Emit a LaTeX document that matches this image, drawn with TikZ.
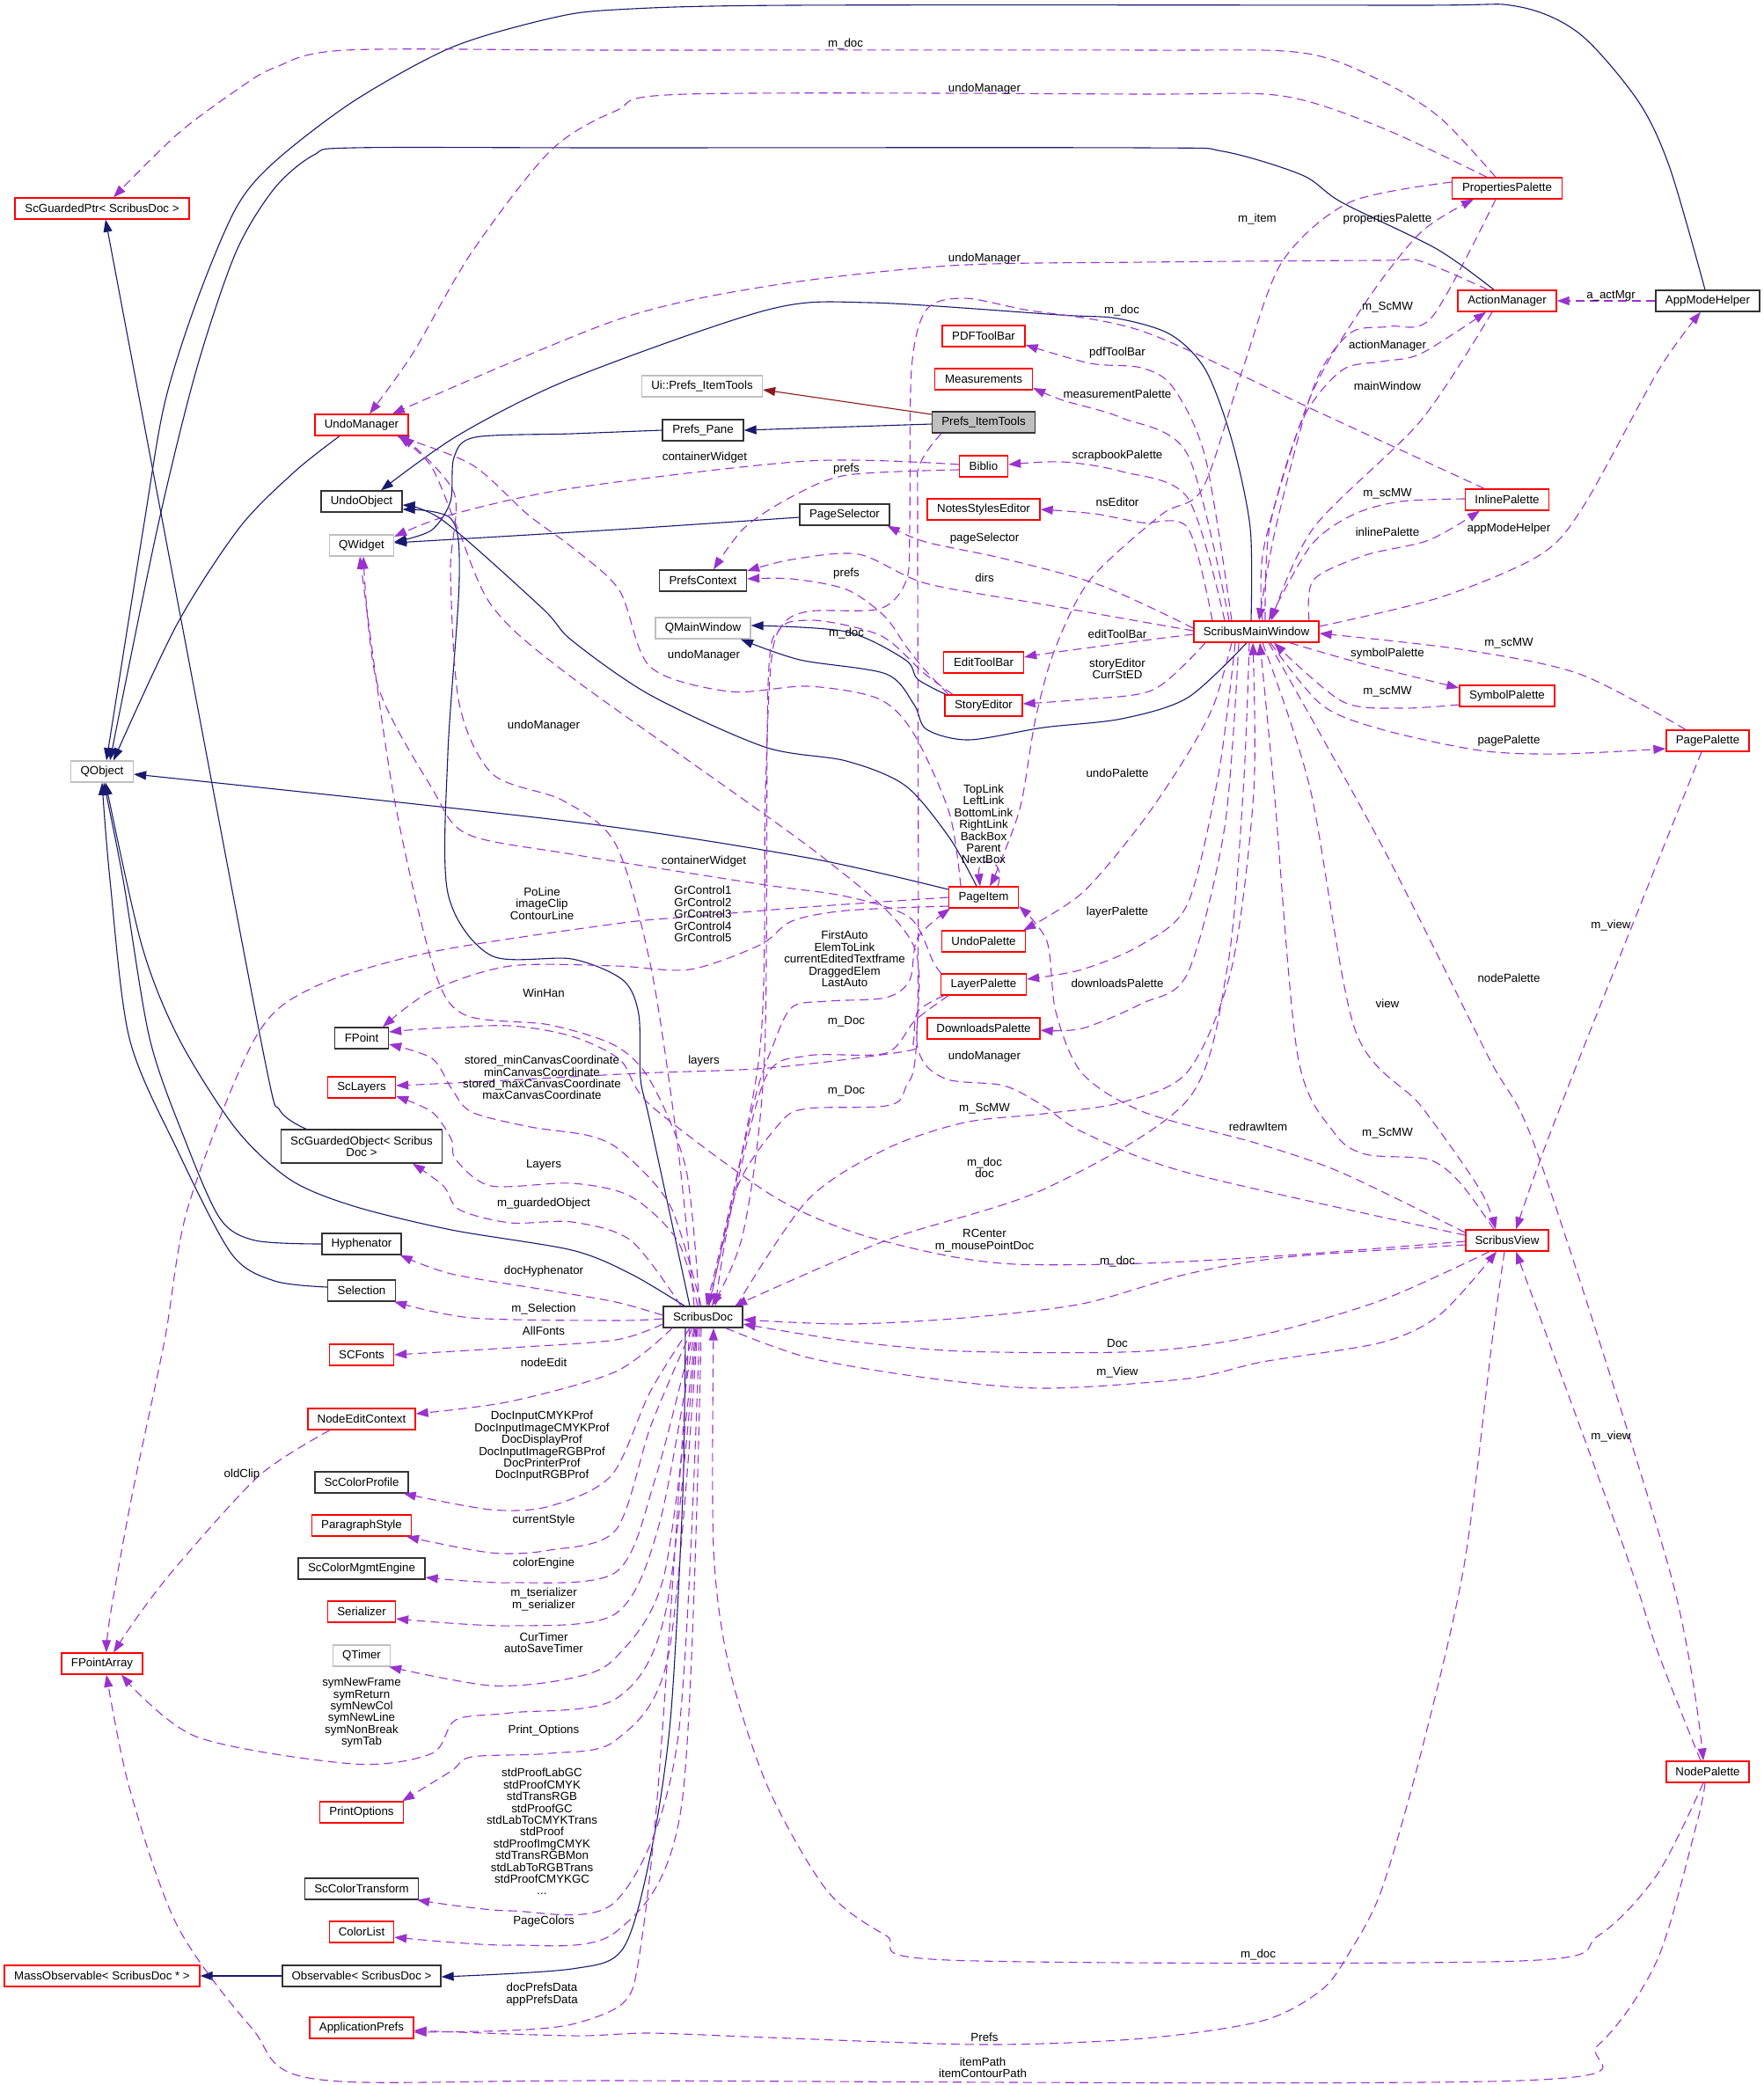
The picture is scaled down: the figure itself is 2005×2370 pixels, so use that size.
\documentclass[tikz,border=0pt]{standalone}
\usepackage{fontspec}
\setmainfont{Liberation Sans}
\usetikzlibrary{arrows.meta}
\definecolor{inhc}{HTML}{191970}
\definecolor{depc}{HTML}{9A32CD}
\definecolor{prvc}{HTML}{8B1A1A}
\definecolor{grb}{HTML}{BFBFBF}
\newcommand\fsz{\fontsize{13.3}{13.4}\selectfont}
\begin{document}
\begin{tikzpicture}[x=1pt,y=-1pt,
  nb/.style={draw, line width=1.3pt, minimum height=24pt, inner xsep=3pt, inner ysep=2pt, fill=white, font=\fsz},
  rb/.style={nb, draw=red},
  kb/.style={nb, draw=black!80},
  gb/.style={nb, draw=grb},
  inh/.style={draw=inhc, line width=1.1pt, -{Triangle[length=14pt,width=10pt]}},
  prv/.style={draw=prvc, line width=1.1pt, -{Triangle[length=14pt,width=10pt]}},
  dep/.style={draw=depc, line width=1.1pt, dash pattern=on 10pt off 6pt, -{Triangle[length=14pt,width=10pt]}},
  lb/.style={align=center, inner sep=0pt, font=\fsz}]
\fill[white] (0,0) rectangle (2005,2370);
\path[use as bounding box] (0,0) rectangle (2005,2370);
% ---------- nodes
\node[rb, minimum width=198pt] (gptr) at (116,237) {ScGuardedPtr< ScribusDoc >};
\node[rb, minimum width=106pt] (undomgr) at (411,483) {UndoManager};
\node[kb, minimum width=92pt] (undoobj) at (411,570) {UndoObject};
\node[gb, minimum width=73pt] (qwidget) at (411,620) {QWidget};
\node[gb, minimum width=71pt] (qobject) at (116,877) {QObject};
\node[kb, minimum width=61pt] (fpoint) at (411,1180) {FPoint};
\node[rb, minimum width=77pt] (sclayers) at (411,1236) {ScLayers};
\node[kb, minimum width=183pt, minimum height=38pt, align=center] (gobj) at (411,1303) {ScGuardedObject< Scribus\\Doc >};
\node[kb, minimum width=90pt] (hyph) at (411,1414) {Hyphenator};
\node[kb, minimum width=77pt] (sel) at (411,1467) {Selection};
\node[rb, minimum width=73pt] (scfonts) at (411,1540) {SCFonts};
\node[rb, minimum width=122pt] (nodeedit) at (411,1613) {NodeEditContext};
\node[kb, minimum width=106pt] (colprof) at (411,1685) {ScColorProfile};
\node[rb, minimum width=113pt] (parstyle) at (411,1734) {ParagraphStyle};
\node[kb, minimum width=144pt] (cme) at (411,1783) {ScColorMgmtEngine};
\node[rb, minimum width=77pt] (serial) at (411,1832) {Serializer};
\node[gb, minimum width=65pt] (qtimer) at (411,1882) {QTimer};
\node[rb, minimum width=92pt] (fpa) at (116,1891) {FPointArray};
\node[rb, minimum width=95pt] (printopt) at (411,2060) {PrintOptions};
\node[kb, minimum width=129pt] (coltrans) at (411,2147) {ScColorTransform};
\node[rb, minimum width=73pt] (collist) at (411,2196) {ColorList};
\node[rb, minimum width=222pt] (massobs) at (116,2246) {MassObservable< ScribusDoc * >};
\node[kb, minimum width=180pt] (obs) at (411,2246) {Observable< ScribusDoc >};
\node[rb, minimum width=118pt] (appprefs) at (411,2305) {ApplicationPrefs};
\node[gb, minimum width=137pt] (uipit) at (798,439) {Ui::Prefs\_ItemTools};
\node[kb, minimum width=92pt] (prefspane) at (799,489) {Prefs\_Pane};
\node[kb, minimum width=99pt] (prefsctx) at (799,660) {PrefsContext};
\node[gb, minimum width=108pt] (qmainwin) at (799,714) {QMainWindow};
\node[kb, minimum width=90pt] (doc) at (799,1497) {ScribusDoc};
\node[rb, minimum width=94pt] (pdftb) at (1118,382) {PDFToolBar};
\node[rb, minimum width=111pt] (meas) at (1118,431) {Measurements};
\node[kb, fill=grb, minimum width=117pt] (pit) at (1118,480) {Prefs\_ItemTools};
\node[rb, minimum width=55pt] (biblio) at (1118,530) {Biblio};
\node[rb, minimum width=128pt] (nse) at (1118,579) {NotesStylesEditor};
\node[kb, minimum width=102pt] (pagesel) at (960,585) {PageSelector};
\node[rb, minimum width=91pt] (edittb) at (1118,753) {EditToolBar};
\node[rb, minimum width=88pt] (story) at (1118,802) {StoryEditor};
\node[rb, minimum width=79pt] (pageitem) at (1118,1020) {PageItem};
\node[rb, minimum width=95pt] (undopal) at (1118,1070) {UndoPalette};
\node[rb, minimum width=97pt] (layerpal) at (1118,1119) {LayerPalette};
\node[rb, minimum width=128pt] (dlpal) at (1118,1169) {DownloadsPalette};
\node[rb, minimum width=142pt] (smw) at (1428,718) {ScribusMainWindow};
\node[rb, minimum width=125pt] (proppal) at (1713,214) {PropertiesPalette};
\node[rb, minimum width=112pt] (actmgr) at (1713,342) {ActionManager};
\node[rb, minimum width=95pt] (inlinepal) at (1713,568) {InlinePalette};
\node[rb, minimum width=108pt] (sympal) at (1713,791) {SymbolPalette};
\node[rb, minimum width=94pt] (view) at (1713,1410) {ScribusView};
\node[kb, minimum width=118pt] (appmode) at (1941,342) {AppModeHelper};
\node[rb, minimum width=94pt] (pagepal) at (1941,842) {PagePalette};
\node[rb, minimum width=94pt] (nodepal) at (1941,2014) {NodePalette};
% ---------- inheritance
\draw[inh] plot[smooth] coordinates {([xshift=-63pt]gobj.north) (318,1262) (300,1200) (205,700) ([xshift=4pt]gptr.south)};
\draw[inh] plot[smooth] coordinates {([xshift=-25pt]undomgr.south) (335,536) (272,600) (201,710) ([xshift=13pt]qobject.north)};
\draw[inh] plot[smooth] coordinates {([xshift=-3pt]appmode.north) (1898,191) (1862,115) (1795,38) (1723,7) (1600,6) (900,6) (700,11) (625,21) (513,54) (402,115) (312,184) (268,237) (223,344) (187,459) (163,600) ([xshift=5pt]qobject.north)};
\draw[inh] plot[smooth] coordinates {([xshift=-15pt]actmgr.north) (1633,283) (1525,230) (1480,199) (1390,172) (1300,168) (700,168) (402,168) (357,176) (312,214) (268,287) (223,421) (179,600) ([xshift=9pt]qobject.north)};
\draw[inh] plot[smooth] coordinates {(hyph.west) (290,1410) (250,1385) (210,1295) (170,1180) (140,1000) ([xshift=2pt]qobject.south)};
\draw[inh] plot[smooth] coordinates {([yshift=4pt]sel.west) (312,1456) (263,1425) (201,1306) (147,1180) (125,1000) (qobject.south)};
\draw[inh] plot[smooth] coordinates {([xshift=-21pt]doc.north) (717,1448) (650,1421) (513,1398) (402,1371) (330,1341) (268,1283) (203,1180) (161,1074) ([xshift=4pt]qobject.south)};
\draw[inh] plot[smooth] coordinates {([yshift=9pt]pageitem.west) (918,975) (650,934) ([yshift=-3pt]qobject.east)};
\draw[inh] plot[smooth] coordinates {(prefspane.west) (650,493) (540,497) (516,520) (512,570) (490,603) ([yshift=4pt]qwidget.east)};
\draw[inh] plot[smooth] coordinates {([yshift=-3pt]pagesel.west) (700,602) ([yshift=3pt]qwidget.east)};
\draw[inh] plot[smooth] coordinates {([xshift=-6pt]smw.north) (1421,600) (1400,500) (1370,420) (1330,380) (1270,362) (1205,358) (989,344) (873,352) (650,430) (522,494) ([xshift=22pt]undoobj.north)};
\draw[inh] plot[smooth] coordinates {([xshift=-8pt]pageitem.north) (1079,952) (1029,893) (962,865) (869,849) (739,790) (650,728) (616,691) (504,592) ([yshift=-4pt]undoobj.east)};
\draw[inh] plot[smooth] coordinates {([xshift=-15pt]doc.north) (739,1276) (728,1226) (726,1153) (708,1114) (650,1090) (558,1086) (509,1015) (509,857) (522,659) (513,590) ([yshift=-9pt]undoobj.east)};
\draw[inh] plot[smooth] coordinates {([xshift=-11pt]smw.south) (1350,793) (1275,817) (1186,827) (1101,841) (1053,829) (1039,801) (1007,766) (909,750) ([xshift=43pt]qmainwin.south)};
\draw[inh] plot[smooth] coordinates {([xshift=-43pt]story.north) (1043,772) (1029,750) (962,718) ([yshift=3pt]qmainwin.east)};
\draw[inh] plot[smooth] coordinates {([xshift=-20pt]doc.south) (776,1700) (762,1955) (739,2110) (708,2215) (650,2238) ([yshift=-1pt]obs.east)};
\draw[inh] (obs.west) -- (massobs.east);
\draw[prv] ([yshift=9pt]pit.west) -- ([yshift=-4pt]uipit.east);
\draw[inh] ([yshift=-2pt]pit.west) -- (prefspane.east);
% ---------- usage
\draw[dep] plot[smooth] coordinates {([xshift=-13pt]proppal.north) (1637,134) (1570,92) (1480,60) (1300,57) (700,57) (393,57) (312,77) (268,103) (201,153) ([xshift=13pt]gptr.north)};
\draw[dep] plot[smooth] coordinates {([xshift=-23pt]proppal.north) (1570,145) (1457,109) (1300,107) (780,107) (700,126) (625,172) (536,287) (469,402) ([xshift=9pt]undomgr.north)};
\draw[dep] plot[smooth] coordinates {([xshift=-22pt]actmgr.north) (1615,297) (1570,296) (1300,298) (1080,302) (874,325) (700,364) ([xshift=35pt]undomgr.north)};
\draw[dep] plot[smooth] coordinates {([yshift=7pt]proppal.west) (1534,230) (1457,298) (1412,421) (1367,555) (1320,585) (1239,659) (1199,738) (1177,817) (1160,916) (1135,985) ([xshift=7pt]pageitem.north)};
\draw[dep] plot[smooth] coordinates {([xshift=7pt]smw.north) (1437,620) (1489,452) (1552,344) (1615,264) ([xshift=-38pt]proppal.south)};
\draw[dep] plot[smooth] coordinates {([xshift=-13pt]proppal.south) (1628,360) (1579,371) (1534,379) (1493,440) (1450,600) ([xshift=3pt]smw.north)};
\draw[dep] plot[smooth] coordinates {([xshift=10pt]smw.north) (1443,600) (1480,478) (1525,421) (1570,411) (1615,402) ([xshift=-24pt]actmgr.south)};
\draw[dep] plot[smooth] coordinates {([xshift=-17pt]actmgr.south) (1615,478) (1493,600) ([xshift=17pt]smw.north)};
\draw[dep] (appmode.west) -- (actmgr.east);
\draw[dep] plot[smooth] coordinates {([xshift=-26pt]inlinepal.north) (1500,469) (1300,377) (1165,352) (1096,339) (1053,352) (1036,420) (1034,600) (1030,660) (1000,692) (918,695) (887,714) (873,778) (869,1200) (845,1400) ([xshift=10pt]doc.north)};
\draw[dep] plot[smooth] coordinates {([xshift=-28pt]smw.north) (1370,520) (1333,440) (1297,418) (1239,413) ([yshift=-10pt]pdftb.east)};
\draw[dep] plot[smooth] coordinates {([xshift=-31pt]smw.north) (1350,517) (1275,475) (1208,455) ([yshift=-10pt]meas.east)};
\draw[dep] plot[smooth] coordinates {([xshift=-36pt]smw.north) (1350,566) (1275,536) (1208,525) ([yshift=2pt]biblio.east)};
\draw[dep] plot[smooth] coordinates {([xshift=-50pt]smw.north) (1350,600) (1297,594) (1244,584) (nse.east)};
\draw[dep] plot[smooth] coordinates {([yshift=4pt]smw.west) (1250,665) (1141,635) (1052,616) ([xshift=-3pt]pagesel.south east)};
\draw[dep] plot[smooth] coordinates {([yshift=1pt]smw.west) (1186,687) (1052,663) (976,630) (900,636) ([yshift=11pt]prefsctx.east)};
\draw[dep] plot[smooth] coordinates {([yshift=-4pt]biblio.west) (963,540) (901,564) (846,600) ([xshift=12pt]prefsctx.north)};
\draw[dep] plot[smooth] coordinates {([yshift=2pt]biblio.west) (918,524) (650,555) (513,585) ([yshift=10pt]qwidget.east)};
\draw[dep] plot[smooth] coordinates {([xshift=-40pt]story.north) (1050,760) (1030,735) (1005,700) (962,670) (900,658) ([yshift=2pt]prefsctx.east)};
\draw[dep] plot[smooth] coordinates {([yshift=-3pt]smw.west) (1300,728) (1195,742) ([yshift=6pt]edittb.east)};
\draw[dep] plot[smooth] coordinates {([xshift=-58pt]smw.south) (1311,784) (1230,795) ([yshift=2pt]story.east)};
\draw[dep] plot[smooth] coordinates {([xshift=-28pt]smw.south) (1380,800) (1350,857) (1297,936) (1230,1015) ([xshift=-3pt]undopal.north east)};
\draw[dep] plot[smooth] coordinates {([xshift=-24pt]smw.south) (1385,880) (1350,1027) (1297,1074) (1230,1102) ([yshift=6pt]layerpal.east)};
\draw[dep] plot[smooth] coordinates {([xshift=-20pt]smw.south) (1392,940) (1350,1106) (1297,1141) (1230,1169) ([yshift=-2pt]dlpal.east)};
\draw[dep] plot[smooth] coordinates {([xshift=60pt]smw.north) (1493,659) (1552,631) (1624,614) ([xshift=-31pt]inlinepal.south)};
\draw[dep] plot[smooth] coordinates {([yshift=1pt]inlinepal.west) (1592,570) (1538,585) (1490,620) ([xshift=14pt]smw.north)};
\draw[dep] plot[smooth] coordinates {([yshift=6pt]smw.east) (1637,679) (1750,631) (1800,575) (1885,421) ([xshift=-8pt]appmode.south)};
\draw[dep] plot[smooth] coordinates {([xshift=38pt]smw.south) (1547,754) ([yshift=9pt]sympal.west)};
\draw[dep] plot[smooth] coordinates {([yshift=-10pt]sympal.west) (1592,805) (1525,797) ([xshift=20pt]smw.south)};
\draw[dep] plot[smooth] coordinates {([xshift=-25pt]pagepal.north) (1795,766) (1660,738) ([yshift=-2pt]smw.east)};
\draw[dep] plot[smooth] coordinates {([xshift=16pt]smw.south) (1502,801) (1570,829) (1682,853) (1772,857) ([yshift=-9pt]pagepal.west)};
\draw[dep] plot[smooth] coordinates {([xshift=7pt]smw.south) (1489,896) (1540,1170) (1615,1257) (1682,1352) ([xshift=-13pt]view.north)};
\draw[dep] plot[smooth] coordinates {([xshift=-15pt]view.north) (1660,1345) (1624,1318) (1552,1312) (1516,1287) (1475,1200) (1448,896) ([xshift=4pt]smw.south)};
\draw[dep] plot[smooth] coordinates {([xshift=14pt]smw.south) (1570,960) (1691,1200) (1750,1318) (1899,1790) ([xshift=-5pt]nodepal.north)};
\draw[dep] plot[smooth] coordinates {([xshift=-7pt]pagepal.south) (1799,1193) (1750,1320) ([xshift=10pt]view.north)};
\draw[dep] plot[smooth] coordinates {([xshift=-8pt]nodepal.north) (1884,1877) (1846,1760) ([xshift=10pt]view.south)};
\draw[dep] plot[smooth] coordinates {([yshift=9pt]view.west) (1525,1333) (1430,1300) (1300,1264) (1230,1220) (1200,1150) (1190,1070) ([yshift=-10pt]pageitem.east)};
\draw[dep] plot[smooth] coordinates {([yshift=-5pt]view.west) (1462,1429) (1350,1448) (1230,1482) (1096,1498) (963,1505) ([yshift=-3pt]doc.east)};
\draw[dep] plot[smooth] coordinates {([yshift=-1pt]view.west) (1462,1427) (1300,1436) (1154,1437) (1065,1425) (962,1398) (873,1356) (739,1256) (705,1205) (650,1178) (580,1166) (491,1169) ([yshift=7pt]fpoint.east)};
\draw[dep] plot[smooth] coordinates {([xshift=-20pt]view.south) (1570,1478) (1435,1517) (1300,1536) (1096,1536) (963,1524) ([yshift=-8pt]doc.east)};
\draw[dep] plot[smooth] coordinates {([xshift=26pt]doc.south) (918,1543) (1052,1566) (1186,1578) (1350,1567) (1435,1548) (1570,1526) (1637,1494) ([xshift=-12pt]view.south)};
\draw[dep] plot[smooth] coordinates {([xshift=-8pt]smw.south) (1413,900) (1395,1100) (1350,1250) (1186,1352) (1007,1410) ([xshift=36pt]doc.north)};
\draw[dep] plot[smooth] coordinates {([xshift=38pt]doc.north) (918,1364) (1007,1306) (1096,1276) (1186,1266) (1275,1253) (1350,1218) (1400,1100) (1425,900) ([xshift=-4pt]smw.south)};
\draw[dep] ([xshift=16pt]pageitem.north) .. controls (1145,975) and (1110,970) .. ([xshift=-4pt]pageitem.north);
\draw[dep] plot[smooth] coordinates {([xshift=-26pt]pageitem.north) (1079,924) (1038,833) (998,794) (918,780) (829,786) (739,758) (704,671) (650,622) (600,585) (536,528) ([xshift=40pt]undomgr.south)};
\draw[dep] plot[smooth] coordinates {([xshift=-10pt]doc.north) (770,1300) (740,1100) (700,960) (640,910) (560,880) (522,800) (512,650) (516,560) ([xshift=46pt]undomgr.south)};
\draw[dep] plot[smooth] coordinates {([yshift=-10pt]pageitem.west) (962,1035) (900,1047) (864,1074) (784,1102) (700,1098) (580,1098) (491,1126) ([xshift=24pt]fpoint.north)};
\draw[dep] plot[smooth] coordinates {(pageitem.west) (918,1031) (784,1042) (700,1050) (491,1082) (357,1122) (290,1180) (214,1371) (187,1524) (150,1700) (125,1838) ([xshift=5pt]fpa.north)};
\draw[dep] plot[smooth] coordinates {([xshift=-2pt]doc.north) (762,1371) (708,1310) (670,1291) (603,1281) (536,1264) (513,1237) (491,1203) ([yshift=-7pt]fpoint.east)};
\draw[dep] plot[smooth] coordinates {([xshift=-6pt]doc.north) (770,1410) (717,1360) (650,1345) (558,1348) (518,1318) (513,1295) (491,1264) ([yshift=-10pt]sclayers.east)};
\draw[dep] plot[smooth] coordinates {([xshift=-25pt]doc.north) (717,1410) (650,1389) (580,1390) (522,1375) (504,1348) ([xshift=58pt]gobj.south)};
\draw[dep] plot[smooth] coordinates {([xshift=-45pt]layerpal.south) (1043,1150) (1038,1185) (1029,1195) (873,1214) (726,1220) (536,1230) ([yshift=2pt]sclayers.east)};
\draw[dep] plot[smooth] coordinates {([yshift=2pt]doc.west) (700,1480) (625,1467) (513,1448) ([xshift=-2pt]hyph.south east)};
\draw[dep] plot[smooth] coordinates {([yshift=-2pt]doc.west) (700,1501) (536,1498) ([xshift=-2pt]sel.south east)};
\draw[dep] plot[smooth] coordinates {([yshift=-8pt]doc.west) (700,1523) (580,1532) (scfonts.east)};
\draw[dep] plot[smooth] coordinates {([xshift=-35pt]doc.south) (700,1559) (580,1593) ([yshift=6pt]nodeedit.east)};
\draw[dep] plot[smooth] coordinates {([xshift=-15pt]doc.south) (739,1582) (695,1677) (625,1712) (558,1716) ([xshift=-6pt]colprof.south east)};
\draw[dep] plot[smooth] coordinates {([xshift=-12pt]doc.south) (740,1620) (700,1739) (625,1762) (558,1765) ([xshift=-6pt]parstyle.south east)};
\draw[dep] plot[smooth] coordinates {([xshift=-10pt]doc.south) (745,1680) (700,1787) (580,1799) ([yshift=-10pt]cme.east)};
\draw[dep] plot[smooth] coordinates {([xshift=-9pt]doc.south) (750,1730) (700,1834) (580,1848) ([yshift=-8pt]serial.east)};
\draw[dep] plot[smooth] coordinates {([xshift=-8pt]doc.south) (755,1790) (700,1884) (647,1908) (558,1916) ([xshift=-2pt]qtimer.south east)};
\draw[dep] plot[smooth] coordinates {([xshift=-7pt]doc.south) (757,1830) (700,1931) (580,1947) (518,1955) (491,1993) (402,2005) (223,1974) ([xshift=22pt]fpa.south)};
\draw[dep] plot[smooth] coordinates {([xshift=-6pt]doc.south) (760,1880) (700,1978) (625,1993) (536,1997) (513,2013) ([xshift=-2pt]printopt.north east)};
\draw[dep] plot[smooth] coordinates {([xshift=-4pt]doc.south) (770,1980) (700,2161) (580,2172) ([xshift=-2pt]coltrans.south east)};
\draw[dep] plot[smooth] coordinates {([xshift=-2pt]doc.south) (775,2050) (700,2196) (580,2211) ([yshift=-6pt]collist.east)};
\draw[dep] plot[smooth] coordinates {([xshift=-15pt]doc.south) (748,2032) (726,2227) (708,2277) (650,2301) (580,2308) ([yshift=-5pt]appprefs.east)};
\draw[dep] plot[smooth] coordinates {([xshift=-3pt]view.south) (1696,1524) (1664,1780) (1615,1993) (1570,2149) (1534,2219) (1502,2262) (1435,2297) (1300,2317) (1119,2324) (873,2316) (739,2311) (650,2314) ([yshift=-3pt]appprefs.east)};
\draw[dep] plot[smooth] coordinates {([xshift=-3pt]nodepal.south) (1929,2071) (1884,2227) (1817,2324) (1727,2365) (700,2365) (357,2363) (286,2305) (201,2188) (147,2032) ([xshift=5pt]fpa.south)};
\draw[dep] plot[smooth] coordinates {([xshift=-5pt]nodepal.south) (1884,2130) (1817,2200) (1727,2229) (1078,2228) (1007,2200) (940,2149) (873,2032) (829,1896) (811,1760) ([xshift=12pt]doc.south)};
\draw[dep] plot[smooth] coordinates {([xshift=-36pt]nodeedit.south) (295,1677) (201,1780) (156,1838) ([xshift=13pt]fpa.north)};
\draw[dep] plot[smooth] coordinates {([xshift=-48pt]pit.south) (1045,530) (1043,600) (1043,1150) (1029,1237) (1007,1257) (918,1260) (887,1276) (837,1352) ([xshift=14pt]doc.north)};
\draw[dep] plot[smooth] coordinates {([xshift=-40pt]layerpal.south) (1040,1160) (1007,1197) (918,1200) (870,1225) (830,1380) ([xshift=6pt]doc.north)};
\draw[dep] plot[smooth] coordinates {([xshift=-35pt]story.north) (1050,765) (1000,722) (918,705) (880,730) (870,900) (863,1200) ([xshift=4pt]doc.north)};
\draw[dep] plot[smooth] coordinates {([yshift=6pt]view.west) (1350,1333) (1231,1287) (1186,1257) (1141,1234) (1074,1226) (1043,1191) (1038,1074) (936,975) (650,770) (560,690) (520,600) (490,530) ([xshift=42pt]undomgr.south)};
\draw[dep] plot[smooth] coordinates {([xshift=-48pt]layerpal.north) (1061,1094) (1034,1043) (962,1019) (864,1005) (650,971) (531,948) (491,896) (429,778) ([xshift=2pt]qwidget.south)};
\draw[dep] plot[smooth] coordinates {([xshift=7pt]doc.north) (856,1257) (878,1190) (900,1145) (940,1138) (1007,1134) (1034,1114) (1043,1066) ([xshift=2pt]pageitem.south west)};
\draw[dep] plot[smooth] coordinates {([xshift=-4pt]doc.north) (780,1330) (740,1230) (700,1189) (625,1165) (527,1153) (491,1094) (446,896) ([xshift=-2pt]qwidget.south)};
% ---------- labels
\node[lb] (t1) at (961,50) {m\_doc};
\node[lb] (t2) at (1119,101) {undoManager};
\node[lb] (t3) at (1119,294) {undoManager};
\node[lb] (t4) at (1275,353) {m\_doc};
\node[lb] (t5) at (1270,401) {pdfToolBar};
\node[lb] (t6) at (1270,448) {measurementPalette};
\node[lb] (t7) at (1270,518) {scrapbookPalette};
\node[lb] (t8) at (1270,571) {nsEditor};
\node[lb] (t9) at (801,520) {containerWidget};
\node[lb] (t10) at (962,533) {prefs};
\node[lb] (t11) at (1429,249) {m\_item};
\node[lb] (t12) at (1577,249) {propertiesPalette};
\node[lb] (t13) at (1577,349) {m\_ScMW};
\node[lb] (t14) at (1577,393) {actionManager};
\node[lb] (t15) at (1577,439) {mainWindow};
\node[lb] (t16) at (1831,336) {a\_actMgr};
\node[lb] (t17) at (1577,561) {m\_scMW};
\node[lb] (t18) at (1577,605) {inlinePalette};
\node[lb] (t19) at (1715,601) {appModeHelper};
\node[lb] (t20) at (1119,612) {pageSelector};
\node[lb] (t21) at (962,652) {prefs};
\node[lb] (t22) at (1119,657) {dirs};
\node[lb] (t23) at (962,720) {m\_doc};
\node[lb] (t24) at (800,745) {undoManager};
\node[lb] (t25) at (1270,721) {editToolBar};
\node[lb] (t26) at (1270,760) {storyEditor\\CurrStED};
\node[lb] (t27) at (1270,879) {undoPalette};
\node[lb] (t28) at (1118,937) {TopLink\\LeftLink\\BottomLink\\RightLink\\BackBox\\Parent\\NextBox};
\node[lb] (t29) at (800,979) {containerWidget};
\node[lb] (t30) at (799,1039) {GrControl1\\GrControl2\\GrControl3\\GrControl4\\GrControl5};
\node[lb] (t31) at (960,1090) {FirstAuto\\ElemToLink\\currentEditedTextframe\\DraggedElem\\LastAuto};
\node[lb] (t32) at (1270,1037) {layerPalette};
\node[lb] (t33) at (1270,1118) {downloadsPalette};
\node[lb] (t34) at (962,1161) {m\_Doc};
\node[lb] (t35) at (1119,1201) {undoManager};
\node[lb] (t36) at (618,825) {undoManager};
\node[lb] (t37) at (616,1027) {PoLine\\imageClip\\ContourLine};
\node[lb] (t38) at (618,1129) {WinHan};
\node[lb] (t39) at (616,1225) {stored\_minCanvasCoordinate\\minCanvasCoordinate\\stored\_maxCanvasCoordinate\\maxCanvasCoordinate};
\node[lb] (t40) at (618,1324) {Layers};
\node[lb] (t41) at (618,1368) {m\_guardedObject};
\node[lb] (t42) at (618,1445) {docHyphenator};
\node[lb] (t43) at (618,1488) {m\_Selection};
\node[lb] (t44) at (618,1513) {AllFonts};
\node[lb] (t45) at (618,1549) {nodeEdit};
\node[lb] (t46) at (616,1644) {DocInputCMYKProf\\DocInputImageCMYKProf\\DocDisplayProf\\DocInputImageRGBProf\\DocPrinterProf\\DocInputRGBProf};
\node[lb] (t47) at (618,1728) {currentStyle};
\node[lb] (t48) at (275,1676) {oldClip};
\node[lb] (t49) at (800,1206) {layers};
\node[lb] (t50) at (618,1777) {colorEngine};
\node[lb] (t51) at (618,1818) {m\_tserializer\\m\_serializer};
\node[lb] (t52) at (618,1867) {CurTimer\\autoSaveTimer};
\node[lb] (t53) at (411,1947) {symNewFrame\\symReturn\\symNewCol\\symNewLine\\symNonBreak\\symTab};
\node[lb] (t54) at (618,1967) {Print\_Options};
\node[lb] (t55) at (616,2082) {stdProofLabGC\\stdProofCMYK\\stdTransRGB\\stdProofGC\\stdLabToCMYKTrans\\stdProof\\stdProofImgCMYK\\stdTransRGBMon\\stdLabToRGBTrans\\stdProofCMYKGC\\...};
\node[lb] (t56) at (618,2184) {PageColors};
\node[lb] (t57) at (616,2267) {docPrefsData\\appPrefsData};
\node[lb] (t58) at (1119,2316) {Prefs};
\node[lb] (t59) at (1117,2350) {itemPath\\itemContourPath};
\node[lb] (t60) at (1577,743) {symbolPalette};
\node[lb] (t61) at (1715,731) {m\_scMW};
\node[lb] (t62) at (1577,786) {m\_scMW};
\node[lb] (t63) at (1715,842) {pagePalette};
\node[lb] (t64) at (1577,1141) {view};
\node[lb] (t65) at (1715,1112) {nodePalette};
\node[lb] (t66) at (1831,1052) {m\_view};
\node[lb] (t67) at (1430,1281) {redrawItem};
\node[lb] (t68) at (1577,1288) {m\_ScMW};
\node[lb] (t69) at (1831,1633) {m\_view};
\node[lb] (t70) at (1119,1260) {m\_ScMW};
\node[lb] (t71) at (1119,1327) {m\_doc\\doc};
\node[lb] (t72) at (1119,1410) {RCenter\\m\_mousePointDoc};
\node[lb] (t73) at (1270,1434) {m\_doc};
\node[lb] (t74) at (1270,1527) {Doc};
\node[lb] (t75) at (1270,1560) {m\_View};
\node[lb] (t76) at (962,1240) {m\_Doc};
\node[lb] (t77) at (1430,2222) {m\_doc};
\end{tikzpicture}
\end{document}
